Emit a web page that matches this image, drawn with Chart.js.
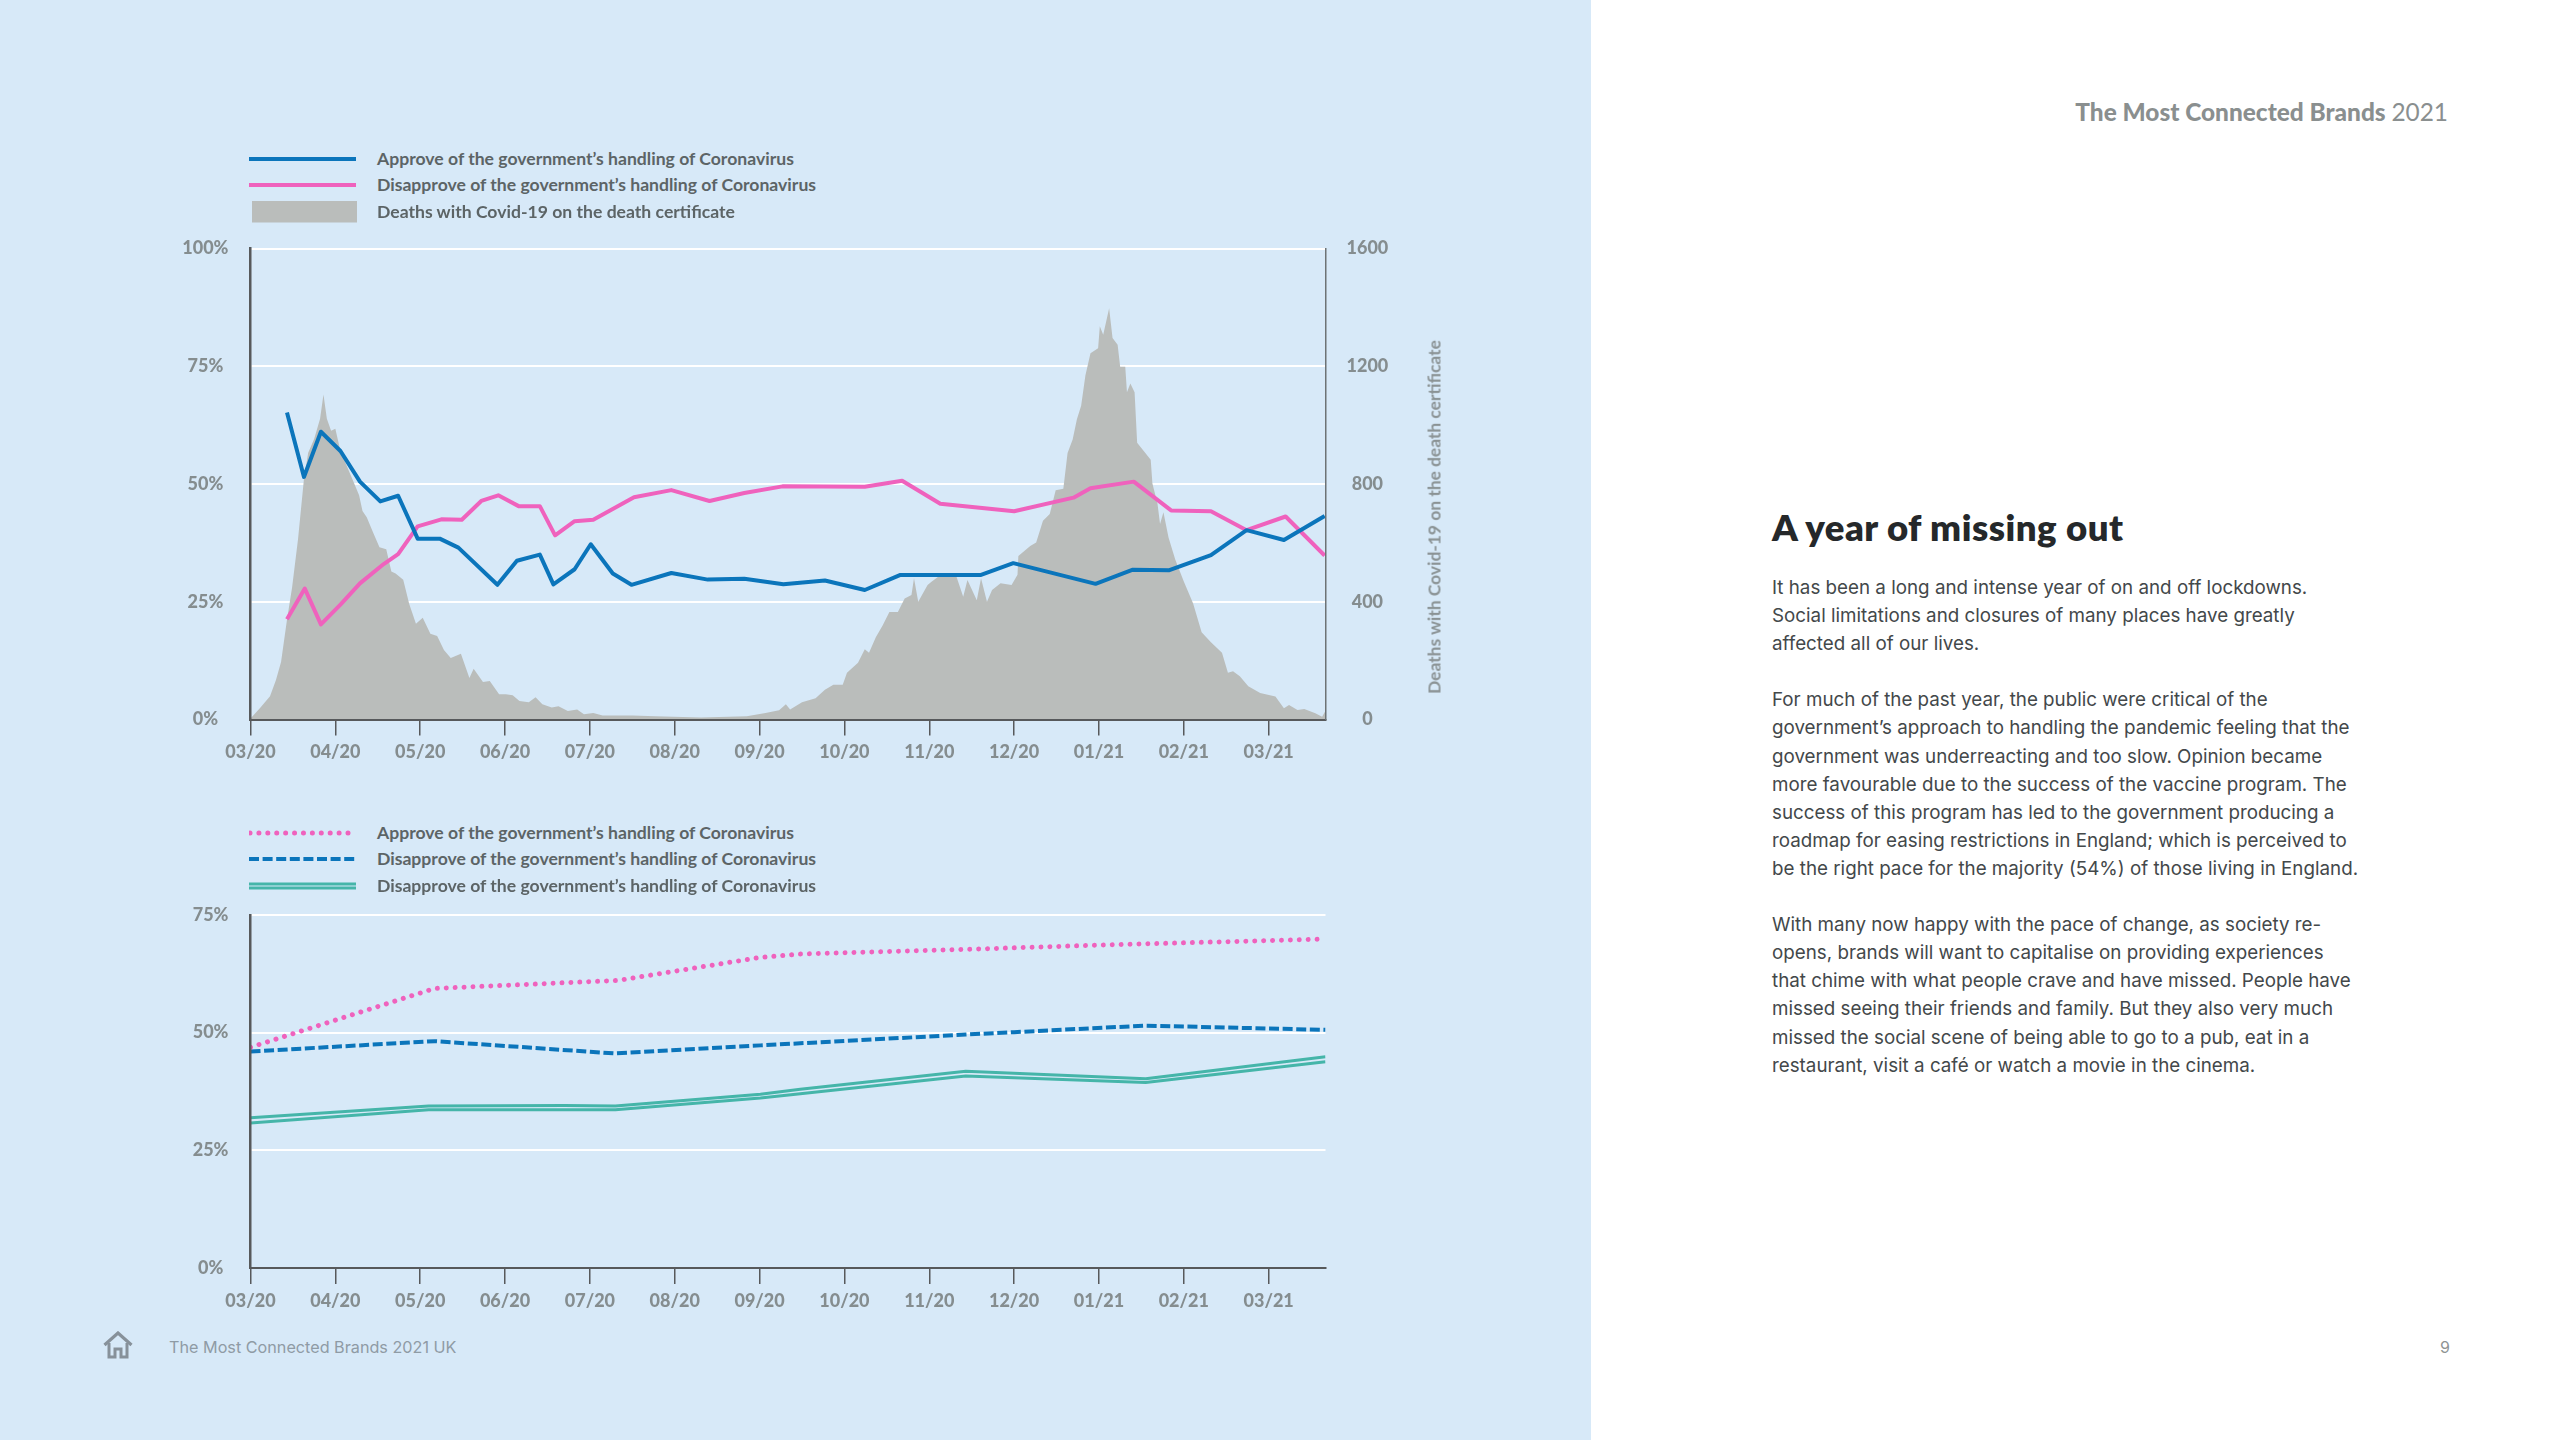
<!doctype html>
<html lang="en">
<head>
<meta charset="utf-8">
<title>A year of missing out</title>
<script src="https://cdn.jsdelivr.net/npm/chart.js@4/dist/chart.umd.min.js"></script>
<style>
    html, body { margin: 0; padding: 0; background: #fff; }
    body { position: relative; width: 2560px; height: 1440px; overflow: hidden; font-family: Lato, sans-serif; }
    #panel { position: absolute; left: 0; top: 0; width: 1591px; height: 1440px; background: #d7e9f8; }
    canvas { position: absolute; left: 0; }
    .legend-row { position: absolute; left: 249px; height: 26px; width: 700px; }
    .legend-row svg { position: absolute; left: 0; top: 0; }
    .legend-row span { position: absolute; left: 128px; top: 0; line-height: 26px; font-size: 17.6px; font-weight: 700; color: #5c6466; white-space: nowrap; }
    #axisTitle { position: absolute; left: 1434px; top: 517px; transform: translate(-50%, -50%) rotate(-90deg); font-size: 17.4px; font-weight: 700; color: #8a9294; white-space: nowrap; }
    #brand { position: absolute; right: 112px; top: 96px; font-size: 24.4px; line-height: 32px; font-weight: 900; color: #8a8f8f; white-space: nowrap; }
    #brand i { font-style: normal; font-weight: 400; }
    #heading { position: absolute; left: 1772px; top: 505px; font-size: 36.5px; line-height: 44px; font-weight: 800; letter-spacing: 0.5px; color: #25282a; white-space: nowrap; }
    #body { position: absolute; left: 1772px; top: 574px; font-family: Inter, sans-serif; font-size: 18.8px; line-height: 28.1px; color: #43484a; white-space: pre; }
    #footer { position: absolute; left: 169px; top: 1335px; font-size: 16.2px; line-height: 24px; color: #8f9ba5; font-family: Inter, sans-serif; white-space: nowrap; }
    #page { position: absolute; left: 2440px; top: 1335px; font-size: 16px; line-height: 24px; color: #8f9494; font-family: Inter, sans-serif; }
    #home { position: absolute; left: 103px; top: 1331px; }
</style>
</head>
<body>
<div id="panel"></div>
<canvas id="topChart" width="1591" height="560" style="top:220px"></canvas>
<canvas id="bottomChart" width="1591" height="440" style="top:887px"></canvas>
<div id="legends"></div>
<div id="axisTitle"></div>
<div id="brand">The Most Connected Brands <i>2021</i></div>
<div id="heading">A year of missing out</div>
<div id="body">It has been a long and intense year of on and off lockdowns.
Social limitations and closures of many places have greatly
affected all of our lives.

For much of the past year, the public were critical of the
government’s approach to handling the pandemic feeling that the
government was underreacting and too slow. Opinion became
more favourable due to the success of the vaccine program. The
success of this program has led to the government producing a
roadmap for easing restrictions in England; which is perceived to
be the right pace for the majority (54%) of those living in England.

With many now happy with the pace of change, as society re-
opens, brands will want to capitalise on providing experiences
that chime with what people crave and have missed. People have
missed seeing their friends and family. But they also very much
missed the social scene of being able to go to a pub, eat in a
restaurant, visit a café or watch a movie in the cinema.</div>
<svg id="home" width="30" height="28" viewBox="0 0 30 28">
    <path d="M1.5 14 L15 2 L28.500 14" fill="none" stroke="#87919a" stroke-width="3.2"/>
    <path d="M6 12 V26 H12 V18 H18 V26 H24 V12" fill="none" stroke="#87919a" stroke-width="3"/>
</svg>
<div id="footer">The Most Connected Brands 2021 UK</div>
<div id="page">9</div>

<script>
    // x positions are in months since 03/20
    var monthLabels = ["03/20", "04/20", "05/20", "06/20", "07/20", "08/20", "09/20", "10/20", "11/20", "12/20", "01/21", "02/21", "03/21"];
    var lastMonth = 12.67;

    var approveMonths = [.43, .63, .83, 1.06, 1.29, 1.53, 1.74, 1.97, 2.23, 2.45, 2.91, 3.14, 3.41, 3.57, 3.82, 4.01, 4.27, 4.49, 4.96, 5.39, 5.82, 6.28, 6.77, 7.24, 7.66, 8.61, 8.99, 9.96, 10.40, 10.83, 11.32, 11.74, 12.18, 12.66];
    var approveValues = [65.2, 51.5, 61.1, 57, 50.5, 46.3, 47.5, 38.4, 38.4, 36.5, 28.6, 33.7, 35, 28.7, 31.9, 37.2, 31, 28.6, 31.1, 29.7, 29.9, 28.7, 29.5, 27.5, 30.7, 30.7, 33.2, 28.8, 31.8, 31.7, 34.9, 40.2, 38.1, 43.2];

    var disapproveMonths = [.43, .64, .83, 1.06, 1.29, 1.57, 1.74, 1.97, 2.25, 2.49, 2.72, 2.92, 3.16, 3.41, 3.59, 3.82, 4.04, 4.52, 4.96, 5.41, 5.82, 6.27, 7.24, 7.68, 8.13, 9.0, 9.70, 9.90, 10.41, 10.85, 11.32, 11.74, 12.20, 12.66];
    var disapproveValues = [21.3, 27.8, 20.2, 24.4, 28.9, 33, 35.1, 41, 42.5, 42.4, 46.4, 47.6, 45.3, 45.3, 39.1, 42.1, 42.4, 47.2, 48.7, 46.4, 48.1, 49.5, 49.4, 50.7, 45.8, 44.2, 47.1, 49.1, 50.5, 44.4, 44.2, 40.2, 43.1, 34.8];

    var deathMonths = [0, .11, .23, .30, .36, .43, .49, .56, .63, .68, .75, .82, .86, .90, .95, 1.0, 1.06, 1.14, 1.22, 1.28, 1.32, 1.37, 1.44, 1.52, 1.60, 1.66, 1.71, 1.80, 1.87, 1.95, 2.03, 2.12, 2.20, 2.28, 2.36, 2.48, 2.58, 2.63, 2.74, 2.82, 2.93, 3.01, 3.09, 3.17, 3.28, 3.36, 3.44, 3.55, 3.63, 3.74, 3.85, 3.93, 4.04, 4.15, 4.50, 4.77, 5.31, 5.85, 6.07, 6.23, 6.31, 6.36, 6.50, 6.66, 6.77, 6.87, 6.98, 7.03, 7.16, 7.24, 7.29, 7.37, 7.45, 7.53, 7.63, 7.71, 7.79, 7.82, 7.87, 7.98, 8.03, 8.11, 8.32, 8.40, 8.45, 8.56, 8.61, 8.68, 8.74, 8.84, 8.97, 9.04, 9.05, 9.19, 9.26, 9.34, 9.42, 9.49, 9.58, 9.63, 9.69, 9.74, 9.79, 9.84, 9.90, 9.99, 10.01, 10.05, 10.12, 10.16, 10.22, 10.25, 10.31, 10.33, 10.37, 10.42, 10.45, 10.53, 10.61, 10.63, 10.69, 10.72, 10.76, 10.82, 10.90, 11.00, 11.11, 11.21, 11.32, 11.45, 11.52, 11.58, 11.66, 11.76, 11.90, 12.08, 12.18, 12.24, 12.34, 12.42, 12.55, 12.63, 12.67];
    var deathValues = [3, 38, 79, 134, 195, 339, 448, 612, 817, 906, 953, 1022, 1104, 1022, 981, 988, 912, 858, 803, 762, 708, 687, 639, 585, 578, 503, 496, 475, 393, 325, 346, 291, 284, 236, 209, 223, 141, 172, 127, 131, 86, 86, 82, 63, 59, 76, 52, 41, 45, 29, 34, 18, 22, 14, 14, 11, 7, 11, 22, 31, 52, 34, 59, 72, 101, 118, 118, 159, 193, 239, 227, 279, 319, 365, 365, 411, 423, 480, 400, 457, 469, 486, 486, 417, 474, 405, 480, 400, 440, 463, 457, 492, 555, 589, 601, 675, 698, 779, 784, 905, 951, 1020, 1066, 1169, 1244, 1261, 1336, 1307, 1397, 1296, 1273, 1198, 1198, 1112, 1141, 1112, 940, 911, 882, 802, 733, 664, 704, 618, 543, 469, 394, 296, 262, 227, 159, 164, 147, 113, 90, 78, 38, 49, 32, 36, 21, 9, 30];

    var paceMonths = [0, 2.17, 4.33, 6.01, 6.48, 8.43, 10.0, 12.67];
    var paceValues = [46.9, 59.4, 61.1, 66, 66.7, 67.7, 68.6, 69.9];

    var slowMonths = [0, 2.17, 4.28, 6.01, 8.43, 9.0, 10.54, 12.67];
    var slowValues = [46, 48.2, 45.6, 47.3, 49.6, 50.1, 51.5, 50.6];

    var fastMonths = [0, 2.10, 3.70, 4.30, 6.01, 6.48, 8.43, 10.55, 12.67];
    var fastUpperValues = [31.9, 34.4, 34.5, 34.4, 36.9, 38, 41.8, 40.2, 44.9];
    var fastLowerValues = [30.8, 33.6, 33.6, 33.6, 36.1, 37, 40.8, 39.4, 43.8];

    var topLegend = ["Approve of the government’s handling of Coronavirus", "Disapprove of the government’s handling of Coronavirus", "Deaths with Covid-19 on the death certificate"];
    var bottomLegend = ["Approve of the government’s handling of Coronavirus", "Disapprove of the government’s handling of Coronavirus", "Disapprove of the government’s handling of Coronavirus"];
    var rightAxisTitle = "Deaths with Covid-19 on the death certificate";

    var blue = "#0b75bb", pink = "#ef62bd", teal = "#45b5a9", grey = "#babdbb";
    var axisDark = "#57595b", tickGrey = "#858d8f";
    var tickFont = { family: "Lato", size: 18, weight: "900" };

    function zip(xs, ys) {
        return xs.map(function(x, i) {
            return { x: x, y: ys[i] };
        });
    }

    function lineSet(label, xs, ys, color, width, dash) {
        return {
            type: "line",
            label: label,
            data: zip(xs, ys),
            borderColor: color,
            borderWidth: width,
            borderDash: dash || [],
            borderCapStyle: dash && dash[0] < 1 ? "round" : "butt",
            borderJoinStyle: "round",
            pointRadius: 0,
            tension: 0,
            fill: false,
            yAxisID: "y",
            order: 1
        };
    }

    // tick padding leaks into the layout, so the sizes are pinned here
    function pinWidth(width) {
        return function(scale) {
            scale.width = width;
            scale.paddingTop = 0;
            scale.paddingBottom = 0;
        };
    }

    function xAxis() {
        return {
            type: "linear",
            min: 0,
            max: lastMonth,
            afterFit: function(scale) { scale.height = 50; },
            grid: { drawOnChartArea: false, color: axisDark, lineWidth: 1.5, tickLength: 16 },
            border: { color: axisDark, width: 2, z: 2 },
            ticks: {
                stepSize: 1,
                includeBounds: false,
                autoSkip: false,
                maxRotation: 0,
                padding: 6,
                color: tickGrey,
                font: tickFont,
                callback: function(value) { return monthLabels[value]; }
            }
        };
    }

    function percentAxis(max) {
        return {
            position: "left",
            min: 0,
            max: max,
            afterFit: pinWidth(150.5),
            grid: { color: "#ffffff", lineWidth: 2, drawTicks: false },
            border: { color: axisDark, width: 2.5, z: 2 },
            ticks: {
                stepSize: 25,
                crossAlign: "center",
                padding: 22,
                color: tickGrey,
                font: tickFont,
                callback: function(value) { return value + "%"; }
            }
        };
    }

    function legendRow(top, svg, text) {
        return '<div class="legend-row" style="top:' + top + 'px"><svg width="112" height="26">' + svg + '</svg><span>' + text + '</span></div>';
    }

    var legends = "";
    legends += legendRow(146, '<line x1="0" x2="107" y1="13" y2="13" stroke="' + blue + '" stroke-width="4"/>', topLegend[0]);
    legends += legendRow(172, '<line x1="0" x2="107" y1="13" y2="13" stroke="' + pink + '" stroke-width="4"/>', topLegend[1]);
    legends += legendRow(199, '<rect x="3" y="2" width="105" height="21.500" fill="' + grey + '"/>', topLegend[2]);
    legends += legendRow(820, '<line x1="1" x2="107" y1="13" y2="13" stroke="' + pink + '" stroke-width="5" stroke-linecap="round" stroke-dasharray="0.01 8.9"/>', bottomLegend[0]);
    legends += legendRow(846, '<line x1="0" x2="107" y1="13" y2="13" stroke="' + blue + '" stroke-width="4" stroke-dasharray="10 3.6"/>', bottomLegend[1]);
    legends += legendRow(873, '<line x1="0" x2="107" y1="11" y2="11" stroke="' + teal + '" stroke-width="3"/><line x1="0" x2="107" y1="15" y2="15" stroke="' + teal + '" stroke-width="3"/>', bottomLegend[2]);
    document.getElementById("legends").innerHTML = legends;
    document.getElementById("axisTitle").textContent = rightAxisTitle;

    new Chart(document.getElementById("topChart"), {
        data: {
            datasets: [
                lineSet(topLegend[0], approveMonths, approveValues, blue, 4),
                lineSet(topLegend[1], disapproveMonths, disapproveValues, pink, 4),
                {
                    type: "line",
                    label: topLegend[2],
                    data: zip(deathMonths, deathValues),
                    borderWidth: 0,
                    backgroundColor: grey,
                    pointRadius: 0,
                    tension: 0,
                    fill: "origin",
                    yAxisID: "deaths",
                    order: 2
                }
            ]
        },
        options: {
            responsive: false,
            animation: false,
            layout: { autoPadding: false, padding: { left: 100, right: 165.5, top: 28.5, bottom: 10.5 } },
            plugins: { legend: { display: false }, tooltip: { enabled: false } },
            scales: {
                x: xAxis(),
                y: percentAxis(100),
                deaths: {
                    position: "right",
                    min: 0,
                    max: 1600,
                    afterFit: pinWidth(100),
                    grid: { drawOnChartArea: false, drawTicks: false },
                    border: { color: "#6d7375", width: 1.5, z: 2 },
                    ticks: {
                        stepSize: 400,
                        crossAlign: "center",
                        padding: 21,
                        color: tickGrey,
                        font: tickFont,
                        callback: function(value) { return String(value); }
                    }
                }
            }
        }
    });

    new Chart(document.getElementById("bottomChart"), {
        data: {
            datasets: [
                lineSet(bottomLegend[0], paceMonths, paceValues, pink, 5, [0.01, 8.9]),
                lineSet(bottomLegend[1], slowMonths, slowValues, blue, 4, [10, 3.6]),
                lineSet(bottomLegend[2], fastMonths, fastUpperValues, teal, 3),
                lineSet(bottomLegend[2], fastMonths, fastLowerValues, teal, 3)
            ]
        },
        options: {
            responsive: false,
            animation: false,
            layout: { autoPadding: false, padding: { left: 100, right: 265.5, top: 28, bottom: 9 } },
            plugins: { legend: { display: false }, tooltip: { enabled: false } },
            scales: {
                x: xAxis(),
                y: percentAxis(75)
            }
        }
    });
</script>
</body>
</html>
